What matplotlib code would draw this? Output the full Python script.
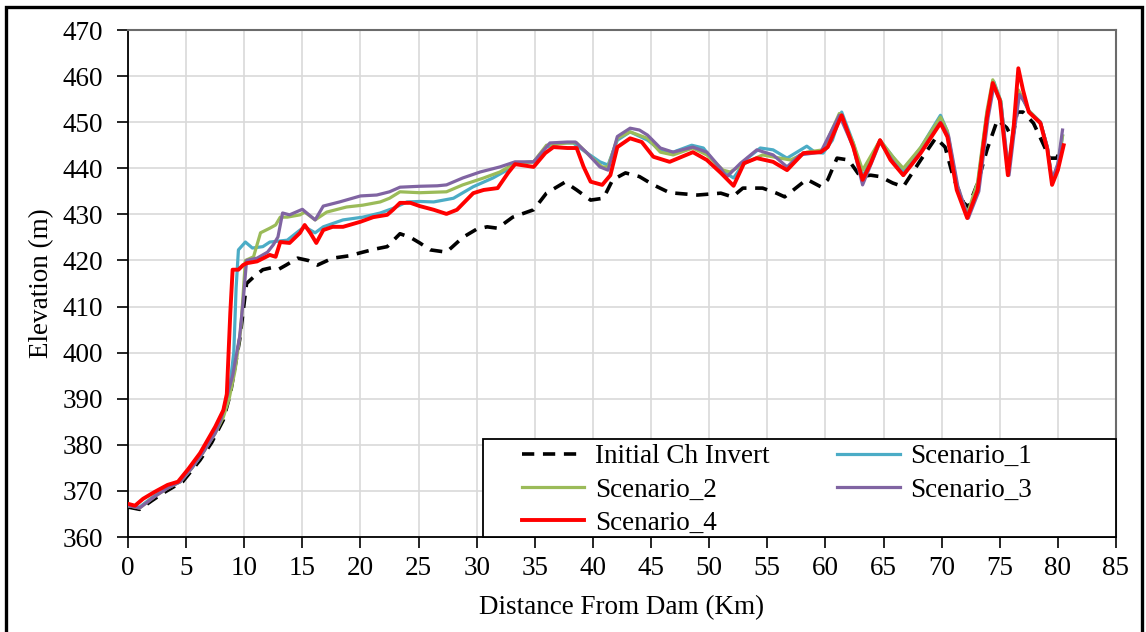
import matplotlib
matplotlib.use("Agg")
import matplotlib.pyplot as plt
from matplotlib.patches import Rectangle

plt.rcParams['font.family'] = ['Liberation Serif', 'DejaVu Serif']

# Longitudinal bed profiles: distance from dam (km) and elevation (m)
init_km = [0, 1.0, 2.0, 3.0, 4.0, 4.7, 5.5, 6.2, 7.2, 8.2, 8.8, 9.6, 10.2, 10.8, 11.6, 12.3,
           12.9, 13.6, 14.6, 15.5, 16.3, 17.6, 19.0, 20.2, 21.3, 22.3, 23.4, 24.3, 25.1, 26.0,
           27.4, 28.8, 30.0, 30.9, 31.8, 33.1, 34.9, 36.0, 37.6, 38.6, 39.8, 40.9, 41.7, 42.8,
           44.0, 45.2, 46.6, 49.0, 51.0, 52.0, 52.9, 54.6, 55.8, 56.5, 57.6, 58.4, 59.6, 60.2,
           61.0, 62.0, 63.0, 63.9, 64.7, 65.8, 66.7, 68.2, 69.5, 70.3, 71.0, 71.9, 72.3, 73.1,
           73.9, 74.8, 75.6, 76.1, 76.5, 77.0, 77.9, 78.7, 79.3, 79.9, 80.4]
init_elev = [366.5, 366.0, 367.8, 369.5, 371.0, 372.0, 374.5, 376.7, 380.5, 385.4, 391.0, 402.7,
             415.0, 416.4, 418.0, 418.4, 418.0, 419.0, 420.5, 420.0, 419.0, 420.5, 421.0, 421.8,
             422.5, 423.0, 425.8, 425.0, 423.8, 422.3, 421.8, 425.0, 426.8, 427.3, 427.0, 429.4,
             431.0, 434.6, 437.0, 435.3, 433.1, 433.5, 437.5, 439.0, 438.2, 436.4, 434.7, 434.2,
             434.6, 433.8, 435.7, 435.7, 434.6, 433.8, 436.0, 437.6, 436.0, 437.5, 442.2, 441.8,
             438.2, 438.5, 438.2, 436.8, 436.0, 441.8, 446.6, 444.6, 438.1, 432.5, 431.6, 436.8,
             444.0, 450.5, 448.8, 446.5, 452.2, 452.2, 449.8, 445.5, 442.2, 442.2, 445.0]

s1_km = [0, 1.0, 2.3, 3.4, 4.5, 5.5, 6.5, 7.5, 8.2, 8.7, 9.1, 9.3, 9.5, 10.1, 10.7, 11.6, 12.2,
         13.7, 14.8, 15.2, 16.1, 16.8, 18.5, 20.2, 21.7, 22.8, 24.0, 25.1, 26.3, 28.0, 29.7,
         31.4, 32.6, 33.5, 34.9, 36.0, 37.2, 38.3, 39.5, 40.6, 41.3, 42.1, 43.2, 44.7, 45.8,
         46.9, 48.5, 49.5, 51.0, 52.1, 53.3, 54.4, 55.5, 56.7, 58.4, 59.1, 59.8, 60.6, 61.4,
         62.4, 63.2, 64.7, 65.8, 66.7, 68.2, 69.9, 70.5, 71.3, 72.2, 73.1, 73.9, 74.5, 75.1,
         75.7, 76.2, 76.6, 77.0, 77.5, 78.5, 79.1, 79.5, 80.0, 80.4]
s1_elev = [366.8, 366.5, 369.0, 370.8, 372.0, 375.0, 378.5, 383.0, 386.5, 391.5, 400.0, 414.0,
           422.3, 424.0, 422.7, 423.0, 424.0, 424.4, 426.6, 427.3, 426.0, 427.3, 428.8, 429.4,
           430.3, 431.3, 432.7, 432.8, 432.7, 433.5, 436.0, 437.9, 439.6, 441.1, 441.4, 444.6,
           445.5, 445.5, 443.3, 441.4, 440.7, 446.1, 447.9, 446.1, 444.0, 443.5, 445.0, 444.4,
           439.6, 437.9, 442.2, 444.4, 444.0, 442.2, 444.8, 443.5, 443.3, 446.1, 452.2, 445.5,
           438.1, 446.1, 442.5, 439.5, 444.5, 451.5, 448.0, 436.0, 429.5, 436.5, 452.0, 458.8,
           454.5, 439.0, 449.0, 456.5, 455.0, 452.5, 450.0, 444.5, 437.0, 440.5, 447.0]

s2_km = [0, 1.0, 2.3, 3.4, 4.5, 5.5, 6.5, 7.5, 8.2, 8.7, 9.2, 9.7, 10.1, 10.8, 11.4, 12.2, 12.7,
         13.1, 13.7, 14.8, 15.2, 16.1, 17.1, 18.8, 20.2, 21.7, 22.5, 23.4, 25.1, 27.4, 28.8,
         30.6, 32.0, 33.3, 34.9, 36.0, 37.8, 38.6, 39.8, 40.8, 41.3, 42.1, 43.2, 44.7, 45.8,
         46.9, 48.6, 49.8, 51.2, 51.8, 53.3, 54.6, 56.1, 57.0, 58.4, 59.8, 61.2, 62.4, 63.2,
         64.7, 65.8, 66.7, 68.2, 69.9, 70.5, 71.3, 72.2, 73.1, 73.9, 74.4, 75.1, 75.7, 76.2,
         76.6, 77.0, 77.5, 78.5, 79.1, 79.5, 80.0, 80.4]
s2_elev = [366.8, 366.3, 368.8, 370.6, 372.0, 375.0, 378.5, 382.5, 386.0, 390.0, 396.0, 405.0,
           420.0, 420.8, 426.0, 427.0, 427.7, 429.4, 429.4, 429.9, 430.5, 428.8, 430.5, 431.6,
           432.0, 432.7, 433.5, 434.9, 434.7, 434.9, 436.4, 437.9, 439.2, 441.1, 441.4, 445.0,
           445.5, 445.5, 442.5, 440.3, 440.3, 446.5, 447.9, 446.5, 443.5, 442.9, 444.4, 442.9,
           439.6, 439.2, 441.4, 442.9, 442.2, 441.8, 443.5, 444.0, 451.9, 445.5, 439.6, 446.1,
           442.5, 440.0, 444.5, 451.1, 448.0, 436.5, 430.0, 437.0, 452.5, 459.2, 454.5, 439.0,
           449.5, 457.0, 455.0, 452.5, 450.0, 444.5, 437.0, 440.5, 447.0]

s3_km = [0, 1.0, 2.3, 3.4, 4.5, 5.5, 6.5, 7.5, 8.0, 8.5, 9.0, 9.6, 9.9, 10.2, 11.1, 12.0, 12.5,
         12.9, 13.3, 13.9, 15.0, 16.1, 16.8, 18.2, 20.0, 21.4, 22.5, 23.4, 25.1, 26.6, 27.4,
         28.8, 30.3, 32.0, 33.3, 34.9, 36.3, 37.8, 38.5, 39.5, 40.6, 41.3, 42.1, 43.2, 44.0,
         44.7, 45.8, 46.9, 48.6, 49.8, 51.0, 51.5, 52.7, 54.1, 55.5, 56.7, 57.8, 59.6, 61.2,
         62.4, 63.2, 64.7, 65.8, 66.7, 68.2, 69.9, 70.6, 71.4, 72.3, 73.2, 74.0, 74.5, 75.1,
         75.8, 76.3, 76.7, 77.1, 77.6, 78.5, 79.1, 79.5, 80.0, 80.4]
s3_elev = [366.8, 366.3, 368.8, 370.6, 372.0, 375.0, 378.5, 382.5, 385.5, 390.4, 395.0, 403.4,
           411.0, 420.0, 420.5, 421.8, 423.4, 425.1, 430.3, 429.9, 431.1, 428.8, 431.8, 432.7,
           434.0, 434.2, 434.9, 435.9, 436.1, 436.2, 436.4, 437.9, 439.2, 440.3, 441.4, 441.4,
           445.5, 445.7, 445.7, 443.3, 440.3, 439.6, 446.9, 448.7, 448.3, 447.2, 444.4, 443.5,
           444.6, 443.5, 440.0, 438.1, 441.1, 444.0, 442.9, 440.3, 442.9, 443.5, 451.5, 444.6,
           436.4, 445.7, 441.5, 438.5, 443.5, 450.0, 447.0, 436.0, 429.2, 435.0, 451.0, 458.0,
           454.0, 438.5, 449.0, 456.0, 454.5, 452.0, 450.0, 444.5, 437.5, 441.0, 448.3]

s4_km = [0, 0.6, 1.3, 2.3, 3.4, 4.3, 5.2, 6.2, 7.5, 8.2, 8.5, 8.8, 9.0, 9.5, 9.9, 10.2, 11.1,
         12.2, 12.7, 13.1, 13.9, 14.8, 15.2, 15.7, 16.2, 16.8, 17.6, 18.5, 20.0, 21.1, 22.3,
         22.8, 23.4, 24.3, 25.1, 26.3, 27.4, 28.3, 29.7, 30.6, 31.8, 32.7, 33.3, 34.9, 35.9,
         36.6, 37.8, 38.6, 39.2, 39.8, 40.8, 41.5, 42.1, 43.2, 44.2, 45.2, 46.6, 48.6, 49.8,
         51.0, 52.1, 53.0, 54.1, 55.5, 56.7, 58.1, 59.6, 60.2, 61.4, 62.4, 63.2, 63.9, 64.7,
         65.6, 66.7, 68.2, 69.9, 70.5, 71.3, 72.2, 73.1, 73.9, 74.4, 75.0, 75.7, 76.2, 76.6,
         77.0, 77.5, 78.5, 79.1, 79.5, 80.0, 80.5]
s4_elev = [367.2, 366.8, 368.3, 369.8, 371.3, 372.0, 374.8, 378.2, 383.9, 387.5, 391.0, 408.6,
           418.0, 418.0, 419.0, 419.4, 419.8, 421.2, 420.8, 424.0, 423.8, 426.0, 427.7, 425.9,
           423.8, 426.6, 427.3, 427.3, 428.4, 429.4, 429.9, 431.0, 432.5, 432.5, 431.8, 431.0,
           430.1, 431.0, 434.6, 435.3, 435.7, 439.0, 440.9, 440.3, 443.3, 444.6, 444.4, 444.4,
           440.3, 437.1, 436.4, 438.5, 444.6, 446.5, 445.7, 442.5, 441.4, 443.5, 441.8, 439.0,
           436.2, 441.1, 442.2, 441.4, 439.6, 443.3, 443.5, 444.6, 451.5, 444.6, 437.5, 441.1,
           446.1, 441.8, 438.5, 443.3, 449.8, 446.8, 435.3, 429.2, 435.3, 451.1, 458.5, 454.8,
           438.5, 449.0, 461.7, 457.0, 452.2, 449.8, 444.0, 436.4, 439.6, 445.0]

x_ticks = list(range(0, 90, 5))
y_ticks = list(range(360, 480, 10))

FS = 19.5

fig = plt.figure(figsize=(11.46, 6.32), dpi=100)
ax = fig.add_axes([0.1117, 0.1503, 0.8621, 0.8022])

h0, = ax.plot(init_km, init_elev, color='black', lw=2.6, ls=(0, (3.4, 2.4)),
              label='Initial Ch Invert', zorder=3)
h1, = ax.plot(s1_km, s1_elev, color='#4BACC6', lw=2.3, label='Scenario_1', zorder=4)
h2, = ax.plot(s2_km, s2_elev, color='#9BBB59', lw=2.3, label='Scenario_2', zorder=5)
h3, = ax.plot(s3_km, s3_elev, color='#8064A2', lw=2.3, label='Scenario_3', zorder=6)
h4, = ax.plot(s4_km, s4_elev, color='#FF0000', lw=2.8, label='Scenario_4', zorder=7)

ax.set_xlim(0, 85)
ax.set_ylim(360, 470)
ax.set_xticks(x_ticks)
ax.set_yticks(y_ticks)
ax.grid(True, color='#d9d9d9', lw=1.2)
ax.set_axisbelow(True)

for side in ('left', 'bottom'):
    ax.spines[side].set_color('black')
    ax.spines[side].set_linewidth(1.3)
for side in ('top', 'right'):
    ax.spines[side].set_color('#6b6b6b')
    ax.spines[side].set_linewidth(1.5)

ax.tick_params(direction='out', width=1.2, labelsize=FS, top=False, right=False)
ax.tick_params(axis='y', length=8, pad=10)
ax.tick_params(axis='x', length=8, pad=6)
ax.set_xlabel('Distance From Dam (Km)', fontsize=FS, labelpad=10)
ax.set_ylabel('Elevation (m)', fontsize=FS, labelpad=6)

# legend box drawn separately, entries laid out row-wise in two columns
ax.add_patch(Rectangle((0.359, 0.0), 0.641, 0.193, transform=ax.transAxes,
                       facecolor='white', edgecolor='black', lw=1.3, zorder=9,
                       clip_on=False))
leg = fig.legend(handles=[h0, h2, h4, h1, h3], ncol=2, loc='upper left',
                 bbox_to_anchor=(0.4555, 0.297), frameon=False, borderpad=0,
                 borderaxespad=0, fontsize=FS, handlelength=2.3, handletextpad=0.4,
                 labelspacing=0.3, columnspacing=2.5)
leg.set_zorder(10)

# outer frame round the whole figure
fig.patches.append(Rectangle((0.005, -0.02), 0.9915, 1.009, transform=fig.transFigure,
                             fill=False, edgecolor='black', lw=2.4))

fig.savefig('out.png', dpi=100)
